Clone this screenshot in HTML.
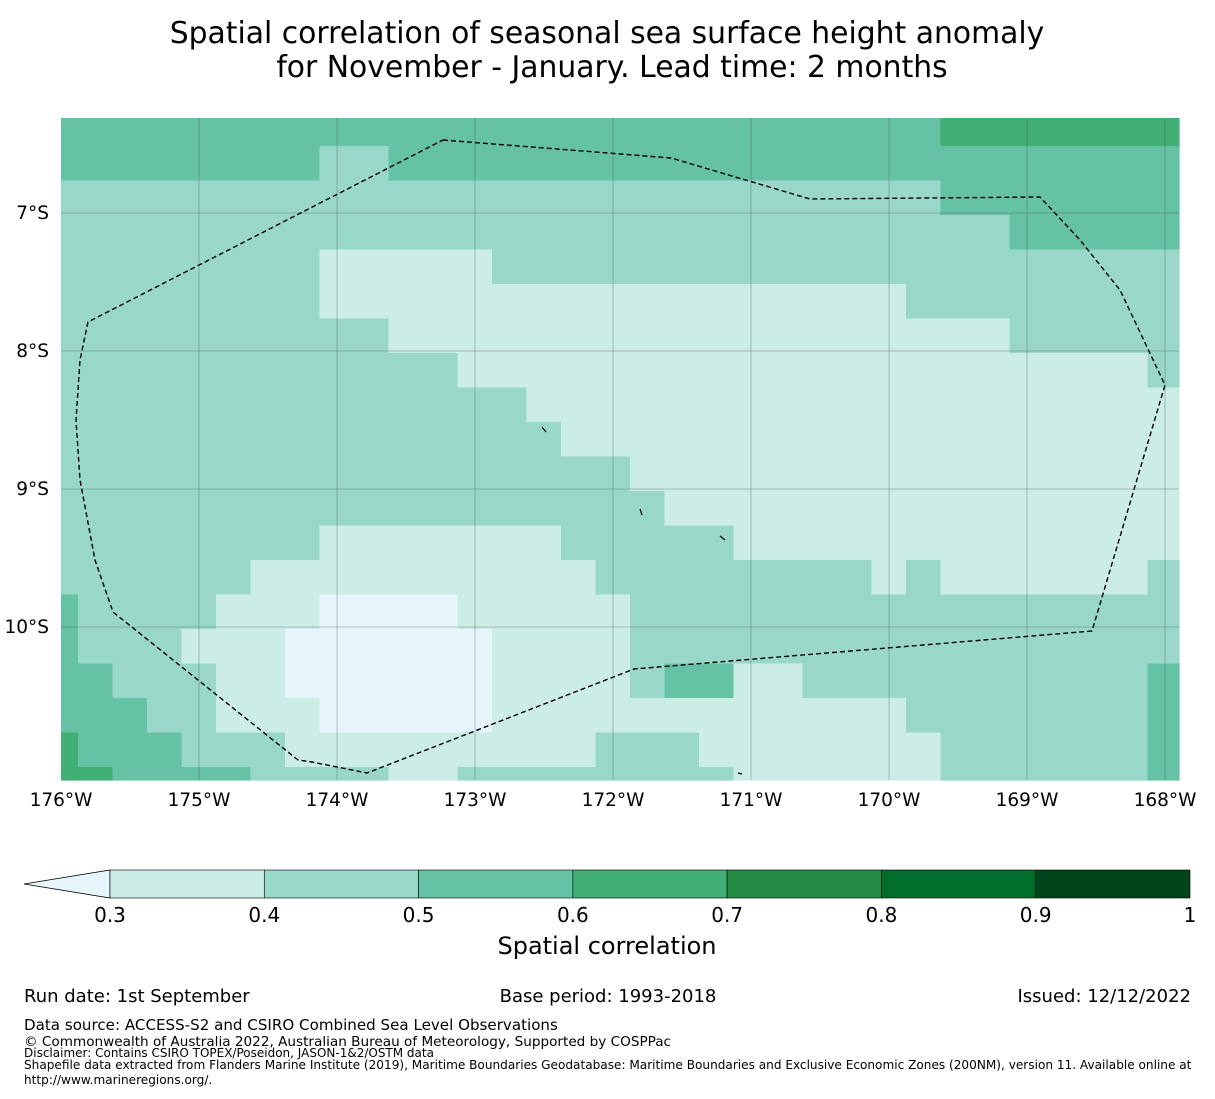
<!DOCTYPE html>
<html><head><meta charset="utf-8">
<style>
html,body{margin:0;padding:0;background:#fff;}
body{width:1215px;height:1095px;overflow:hidden;font-family:"DejaVu Sans","Liberation Sans",sans-serif;}
svg text{font-family:"DejaVu Sans","Liberation Sans",sans-serif;fill:#000;}
</style></head>
<body>
<svg id="chart" width="1215" height="1095" viewBox="0 0 1215 1095">
<text x="607" y="43" font-size="29.8" text-anchor="middle">Spatial correlation of seasonal sea surface height anomaly</text>
<text x="612" y="77" font-size="29.8" text-anchor="middle">for November - January. Lead time: 2 months</text>
<g id="cells"></g>
<g id="grid"></g>
<polygon points="443,140 671,158 810,199 1040,197 1080,240 1120,290 1165,385 1092,631 634,669 367,773 312,762 298,760 113,612 95,560 80,480 76,420 80,360 88,322" fill="none" stroke="#000" stroke-width="1.4" stroke-dasharray="5,3"/>
<g stroke="#000" stroke-width="1.2">
<line x1="542" y1="427" x2="546" y2="432"/><line x1="640" y1="509" x2="642" y2="515"/><line x1="720" y1="536" x2="725" y2="540"/><line x1="738" y1="773" x2="742" y2="774"/>
</g>
<g id="xticks"></g>
<g id="yticks"></g>
<g id="cbar"></g>
<text x="607" y="954" font-size="24" text-anchor="middle">Spatial correlation</text>
<text x="24" y="1002" font-size="18">Run date: 1st September</text>
<text x="608" y="1002" font-size="18" text-anchor="middle">Base period: 1993-2018</text>
<text x="1191" y="1002" font-size="18" text-anchor="end">Issued: 12/12/2022</text>
<text x="24" y="1030" font-size="15.1">Data source: ACCESS-S2 and CSIRO Combined Sea Level Observations</text>
<text x="24" y="1046" font-size="13.6">© Commonwealth of Australia 2022, Australian Bureau of Meteorology, Supported by COSPPac</text>
<text x="24" y="1057" font-size="12">Disclaimer: Contains CSIRO TOPEX/Poseidon, JASON-1&amp;2/OSTM data</text>
<text x="24" y="1069" font-size="12.1">Shapefile data extracted from Flanders Marine Institute (2019), Maritime Boundaries Geodatabase: Maritime Boundaries and Exclusive Economic Zones (200NM), version 11. Available online at</text>
<text x="24" y="1084" font-size="12.1">http://www.marineregions.org/.</text>
</svg>
<script>
// correlation band codes per cell: 1=0.2-0.3, 2=0.3-0.4, 3=0.4-0.5, 4=0.5-0.6, 5=0.6-0.7
const gridRows = [
"444444444444444444444444445555555",
"444444443344444444444444444444444",
"333333333333333333333333334444444",
"333333333333333333333333333344444",
"333333332222233333333333333333333",
"333333332222222222222222233333333",
"333333333322222222222222222233333",
"333333333333222222222222222222223",
"333333333333332222222222222222222",
"333333333333333222222222222222222",
"333333333333333332222222222222222",
"333333333333333333222222222222222",
"333333332222222333332222222222222",
"333333222222222233333333232222223",
"433332221111222223333333333333333",
"433322211111122223333333333333333",
"443332211111122223442233333333334",
"444332221111122222222222233333334",
"544433322222222233322222223333334",
"554444333322333333332222223333334"];
const bandValues = [0.25,0.35,0.45,0.55,0.65];
const bandColors = ["#e5f5f9","#ccece6","#99d8c9","#66c2a4","#41ae76","#238b45","#006d2c","#00441b"];
const lonTicks = [-176,-175,-174,-173,-172,-171,-170,-169,-168];
const latTicks = [-7,-8,-9,-10];
const cbarBounds = [0.3,0.4,0.5,0.6,0.7,0.8,0.9,1];
const cbarLabels = ["0.3","0.4","0.5","0.6","0.7","0.8","0.9","1"];

const NS="http://www.w3.org/2000/svg";
const X0=61,X1=1179,Y0=118,Y1=780,PX=138;
const xOf = lon => 61 + (lon+176)*PX;
const yOf = lat => 213 + (-7-lat)*PX;
const lonW = -176 + (78-61)/PX;
const latN = -7 + (213-146)/PX;
function colEdge(c){ if(c<=0) return X0; return Math.min(X1, xOf(lonW + (c-1)*0.25)); }
function rowEdge(r){ if(r<=0) return Y0; return Math.min(Y1, yOf(latN - (r-1)*0.25)); }
function colorFor(v){ let i=0; while(i<cbarBounds.length && v>=cbarBounds[i]) i++; return bandColors[i]; }
function mk(tag,attrs,parent){const e=document.createElementNS(NS,tag);for(const k in attrs)e.setAttribute(k,attrs[k]);parent.appendChild(e);return e;}

const cells=document.getElementById('cells');
gridRows.forEach((row,r)=>{
  for(let c=0;c<row.length;c++){
    const v=bandValues[+row[c]-1];
    const x=colEdge(c), x2=colEdge(c+1), y=rowEdge(r), y2=rowEdge(r+1);
    const el=mk('rect',{x:x,y:y,width:x2-x+0.6,height:y2-y+0.6,fill:colorFor(v)},cells);
    
    
  }
});
const grid=document.getElementById('grid');
const xt=document.getElementById('xticks');
lonTicks.forEach(l=>{
  const x=xOf(l);
  if(x>X0+1) mk('line',{x1:x,y1:Y0,x2:x,y2:Y1,stroke:'#444','stroke-width':0.5,'stroke-opacity':0.6},grid);
  const t=mk('text',{x:x,y:806,'font-size':18.5,'text-anchor':'middle'},xt);
  t.textContent=Math.abs(l)+'°W';
  
  
});
const yt=document.getElementById('yticks');
latTicks.forEach(l=>{
  const y=yOf(l);
  mk('line',{x1:X0,y1:y,x2:X1,y2:y,stroke:'#444','stroke-width':0.5,'stroke-opacity':0.6},grid);
  const t=mk('text',{x:49,y:y+6,'font-size':18.5,'text-anchor':'end'},yt);
  t.textContent=Math.abs(l)+'°S';
  
  
});
const cb=document.getElementById('cbar');
const cx = v => 110 + (v-0.3)/0.7*1080;
const tri=mk('polygon',{points:'24,884 110,870 110,898',fill:bandColors[0],stroke:'#000','stroke-width':0.8},cb);


for(let i=0;i<cbarBounds.length-1;i++){
  const r=mk('rect',{x:cx(cbarBounds[i]),y:870,width:cx(cbarBounds[i+1])-cx(cbarBounds[i]),height:28,fill:bandColors[i+1],stroke:'#000','stroke-width':0.6},cb);
  
  
}
cbarBounds.forEach((b,i)=>{
  const t=mk('text',{x:cx(b),y:922,'font-size':20,'text-anchor':'middle'},cb);
  t.textContent=cbarLabels[i];
  
  
});
</script>
</body></html>
